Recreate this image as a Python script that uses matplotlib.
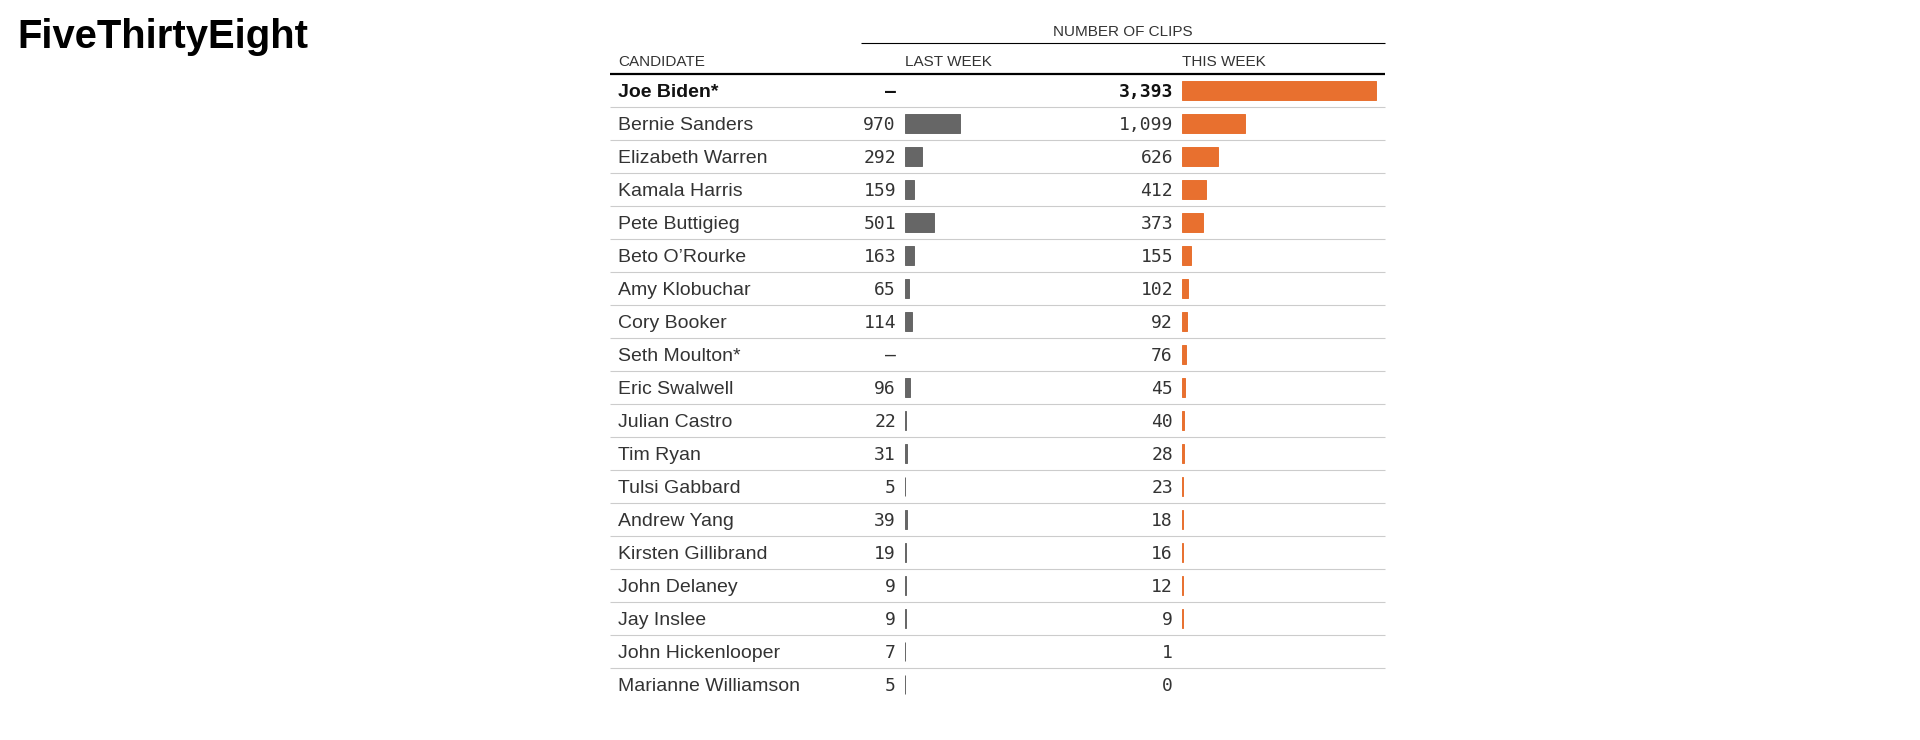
import matplotlib
matplotlib.use("Agg")
import matplotlib.pyplot as plt
import numpy as np

candidates = ["Joe Biden*", "Bernie Sanders", "Elizabeth Warren", "Kamala Harris",
              "Pete Buttigieg", "Beto O\u2019Rourke", "Amy Klobuchar", "Cory Booker",
              "Seth Moulton*", "Eric Swalwell", "Julian Castro", "Tim Ryan",
              "Tulsi Gabbard", "Andrew Yang", "Kirsten Gillibrand", "John Delaney",
              "Jay Inslee", "John Hickenlooper", "Marianne Williamson"]
last_week = [None, 970, 292, 159, 501, 163, 65, 114, None, 96, 22, 31, 5, 39, 19, 9, 9, 7, 5]
this_week = [3393, 1099, 626, 412, 373, 155, 102, 92, 76, 45, 40, 28, 23, 18, 16, 12, 9, 1, 0]
highlight = ["Joe Biden*"]

W, H = 1920, 740
fig = plt.figure(figsize=(W / 100, H / 100), dpi=100)
ax = fig.add_axes([0, 0, 1, 1])
ax.set_xlim(0, W)
ax.set_ylim(H, 0)
ax.axis("off")

sans = "Liberation Sans"
mono = "DejaVu Sans Mono"
txt = "#333333"
gray = "#666666"
orange = "#e8702f"

# layout (pixels)
left, right = 610, 1385
top_rows = 74
pitch = 33
n = len(candidates)
lw_x, tw_x = 905, 1182
px_per_clip = 194 / 3393

# logo
ax.text(17, 48, "FiveThirtyEight", fontsize=28.8, fontweight="bold", family=sans,
        color="black", va="baseline", ha="left")

# headers
ax.text(1123, 32, "NUMBER OF CLIPS", fontsize=11, family=sans, color=txt, ha="center", va="center")
ax.plot([861, right], [43, 43], color="black", lw=0.8, solid_capstyle="butt")
ax.text(618, 62, "CANDIDATE", fontsize=11, family=sans, color=txt, ha="left", va="center")
ax.text(lw_x, 62, "LAST WEEK", fontsize=11, family=sans, color=txt, ha="left", va="center")
ax.text(tw_x, 62, "THIS WEEK", fontsize=11, family=sans, color=txt, ha="left", va="center")
ax.plot([left, right], [top_rows, top_rows], color="black", lw=1.6, solid_capstyle="butt")

for i, name in enumerate(candidates):
    yc = top_rows + pitch * (i + 0.5)
    bold = "bold" if name in highlight else "normal"
    col = "#111111" if name in highlight else txt
    ax.text(618, yc + 2, name, fontsize=14, family=sans, fontweight=bold, color=col,
            ha="left", va="center")
    lv = last_week[i]
    ax.text(896, yc + 1.5, "\u2013" if lv is None else f"{lv:,}", fontsize=13, family=mono,
            fontweight=bold, color=col, ha="right", va="center")
    ax.text(1173, yc + 1.5, f"{this_week[i]:,}", fontsize=13, family=mono,
            fontweight=bold, color=col, ha="right", va="center")
    if i < n - 1:
        ys = top_rows + pitch * (i + 1)
        ax.plot([left, right], [ys, ys], color="#cccccc", lw=0.8, solid_capstyle="butt")

# bar axes, rows in data units
y0 = 1 - (top_rows + pitch * n) / H
hh = pitch * n / H
ax_l = fig.add_axes([lw_x / W, y0, 250 / W, hh])
ax_t = fig.add_axes([tw_x / W, y0, (right - tw_x) / W, hh])
rows = np.arange(n)
lv_vals = np.nan_to_num(np.array([np.nan if v is None else v for v in last_week], dtype=float))
tv_vals = np.array(this_week, dtype=float)
ax_l.barh(rows, lv_vals, height=0.55, color=gray,
          edgecolor=[gray if v > 0 else "none" for v in lv_vals], linewidth=0.7)
ax_t.barh(rows, tv_vals, height=0.55, color=orange,
          edgecolor=[orange if v > 1 else "none" for v in tv_vals], linewidth=0.7)
ax_l.set_xlim(0, 250 / px_per_clip)
ax_t.set_xlim(0, (right - tw_x) / px_per_clip)
for a in (ax_l, ax_t):
    a.set_ylim(n - 0.5, -0.5)
    a.axis("off")
    a.patch.set_alpha(0)

fig.savefig("out.png", dpi=100)
